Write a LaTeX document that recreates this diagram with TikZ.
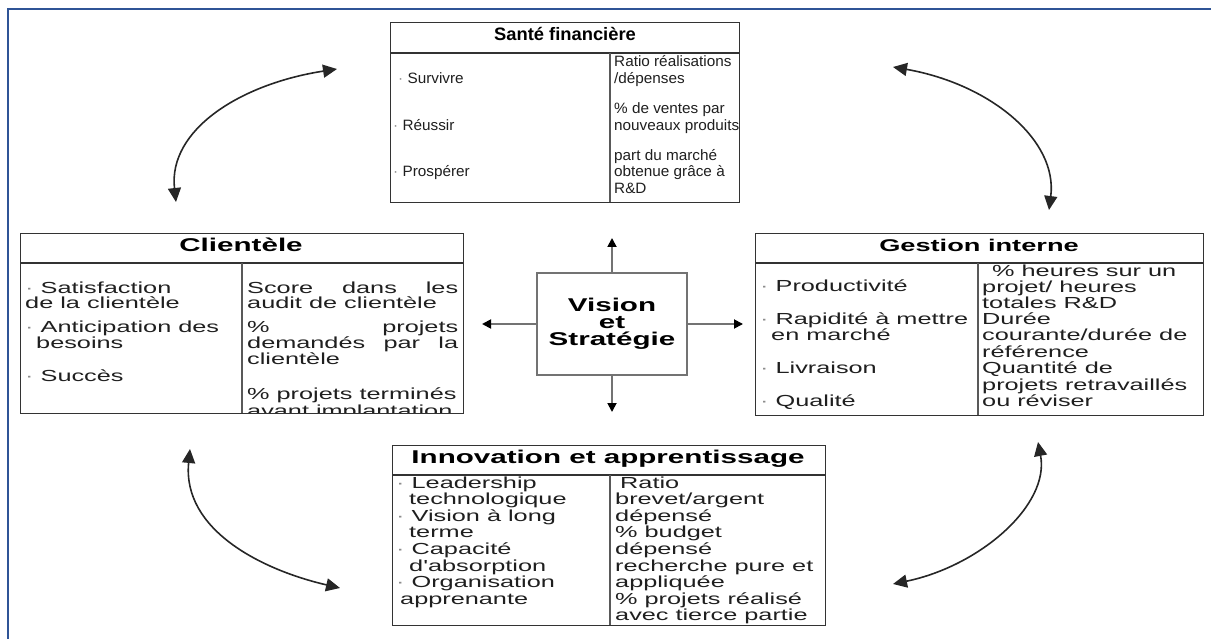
\documentclass[tikz,border=0pt]{standalone}
\usepackage{fontspec}
\setmainfont{Liberation Sans}
\newfontfamily\wideSans{Liberation Sans}[FakeStretch=1.58]
\newfontfamily\headSans{Liberation Sans}[FakeStretch=1.6]
\newfontfamily\slimSans{Liberation Sans}[FakeStretch=1.02]
\usetikzlibrary{arrows.meta}
\definecolor{frameblue}{HTML}{2F5496}
\newcommand\dotb{\textcolor{black!45}{·}\ }

\tikzset{
  frame/.style={draw=frameblue, line width=2.2pt},
  panel/.style={draw=black!80, line width=1.4pt, fill=white, inner sep=0pt, anchor=north west},
  rule/.style={draw=black!80, line width=1.4pt},
  colrule/.style={draw=black!65, line width=2.4pt},
  wtxt/.style={inner sep=0pt, anchor=mid west, text=black!88, font=\wideSans\fontsize{16}{16}\selectfont},
  ntxt/.style={wtxt, font=\slimSans\fontsize{15}{16}\selectfont},
  whead/.style={inner sep=0pt, anchor=mid, text=black, font=\headSans\bfseries\fontsize{18.5}{18}\selectfont},
  nhead/.style={whead, font=\slimSans\bfseries\fontsize{18}{18}\selectfont},
  core/.style={draw=black!55, line width=2.2pt, fill=white, minimum width=150pt, minimum height=102pt,
    align=center, text=black, font=\headSans\bfseries\fontsize{18.5}{17}\selectfont},
  link/.style={{Triangle[length=14pt,width=13pt]}-{Triangle[length=14pt,width=13pt]}, line width=1.6pt, draw=black!85},
  spoke/.style={-{Triangle[length=9pt,width=9pt,color=black]}, draw=black!55, line width=1.8pt},
}

\begin{document}
\begin{tikzpicture}[x=1pt,y=-1pt]
\useasboundingbox (0,0) rectangle (1211,639);
\clip (0,0) rectangle (1211,639);

% page frame
\draw[frame] (8,9) rectangle (1230,660);

% ---------- Santé financière ----------
\node[panel, minimum width=349pt, minimum height=180pt] (sante) at (390,22) {};
\draw[rule] (390,53) -- (739,53);
\draw[colrule] (610,53) -- (610,202);
\node[nhead] (santeT) at (565,38) {Santé financière};
\node[ntxt] (sL1) at (398,81)  {\dotb Survivre};
\node[ntxt] (sL2) at (393,128) {\dotb Réussir};
\node[ntxt] (sL3) at (393,174) {\dotb Prospérer};
\node[ntxt] (sR1) at (614,64)  {Ratio réalisations};
\node[ntxt] (sR2) at (614,81)  {/dépenses};
\node[ntxt] (sR3) at (614,111) {\% de ventes par};
\node[ntxt] (sR4) at (614,128) {nouveaux produits};
\node[ntxt] (sR5) at (614,158) {part du marché};
\node[ntxt] (sR6) at (614,174) {obtenue grâce à};
\node[ntxt] (sR7) at (614,191) {R\&D};

% ---------- Clientèle ----------
\node[panel, minimum width=443pt, minimum height=180pt] (client) at (20,233) {};
\begin{scope}
  \clip (21,234) rectangle (462,412);
  \node[wtxt] (cR7) at (247,414) {avant implantation};
\end{scope}
\draw[rule] (20,263) -- (463,263);
\draw[colrule] (242,263) -- (242,413);
\node[whead] (clientT) at (241,249) {Clientèle};
\node[wtxt] (cL1) at (25,291) {\dotb Satisfaction};
\node[wtxt] (cL2) at (25,306) {de la clientèle};
\node[wtxt] (cL3) at (25,330) {\dotb Anticipation des};
\node[wtxt] (cL4) at (36,346) {besoins};
\node[wtxt] (cL5) at (25,379) {\dotb Succès};
\node[wtxt] (cR1) at (247,291) {\hbox to 211pt{Score\hfill dans\hfill les}};
\node[wtxt] (cR2) at (247,306) {audit de clientèle};
\node[wtxt] (cR3) at (247,330) {\hbox to 211pt{\%\hfill projets}};
\node[wtxt] (cR4) at (247,346) {\hbox to 211pt{demandés\hfill par\hfill la}};
\node[wtxt] (cR5) at (247,362) {clientèle};
\node[wtxt] (cR6) at (247,397) {\% projets terminés};

% ---------- Gestion interne ----------
\node[panel, minimum width=448pt, minimum height=182pt] (gestion) at (755,233) {};
\draw[rule] (755,263) -- (1203,263);
\draw[colrule] (978,263) -- (978,415);
\node[whead, font=\headSans\bfseries\fontsize{17}{18}\selectfont] (gestionT) at (979,249) {Gestion interne};
\node[wtxt] (gL1) at (760,289) {\dotb Productivité};
\node[wtxt] (gL2) at (760,322) {\dotb Rapidité à mettre};
\node[wtxt] (gL3) at (771,338) {en marché};
\node[wtxt] (gL4) at (760,371) {\dotb Livraison};
\node[wtxt] (gL5) at (760,404) {\dotb Qualité};
\node[wtxt] (gR1) at (992,274) {\% heures sur un};
\node[wtxt] (gR2) at (982,290) {projet/ heures};
\node[wtxt] (gR3) at (982,306) {totales R\&D};
\node[wtxt] (gR4) at (982,322) {Durée};
\node[wtxt] (gR5) at (982,338) {courante/durée de};
\node[wtxt] (gR6) at (982,355) {référence};
\node[wtxt] (gR7) at (982,371) {Quantité de};
\node[wtxt] (gR8) at (982,388) {projets retravaillés};
\node[wtxt] (gR9) at (982,404) {ou réviser};

% ---------- Innovation et apprentissage ----------
\node[panel, minimum width=433pt, minimum height=180pt] (innov) at (392,445) {};
\draw[rule] (392,475) -- (825,475);
\draw[colrule] (610,475) -- (610,625);
\node[whead] (innovT) at (608,461) {Innovation et apprentissage};
\node[wtxt] (iL1) at (396,486) {\dotb Leadership};
\node[wtxt] (iL2) at (409,502) {technologique};
\node[wtxt] (iL3) at (396,519) {\dotb Vision à long};
\node[wtxt] (iL4) at (409,535) {terme};
\node[wtxt] (iL5) at (396,552) {\dotb Capacité};
\node[wtxt] (iL6) at (409,569) {d'absorption};
\node[wtxt] (iL7) at (396,585) {\dotb Organisation};
\node[wtxt] (iL8) at (400,602) {apprenante};
\node[wtxt] (iR1) at (620,486) {Ratio};
\node[wtxt] (iR2) at (615,502) {brevet/argent};
\node[wtxt] (iR3) at (615,519) {dépensé};
\node[wtxt] (iR4) at (615,535) {\% budget};
\node[wtxt] (iR5) at (615,552) {dépensé};
\node[wtxt] (iR6) at (615,569) {recherche pure et};
\node[wtxt] (iR7) at (615,585) {appliquée};
\node[wtxt] (iR8) at (615,602) {\% projets réalisé};
\node[wtxt] (iR9) at (615,618) {avec tierce partie};

% ---------- central box and its spokes ----------
\node[core] (vision) at (612,324) {Vision\\et\\Stratégie};
\coordinate (tipN) at (612,238);
\coordinate (tipS) at (612,412);
\coordinate (tipW) at (482,324);
\coordinate (tipE) at (743,324);
\draw[spoke] (vision.north) -- (tipN);
\draw[spoke] (vision.south) -- (tipS);
\draw[spoke] (vision.west) -- (tipW);
\draw[spoke] (vision.east) -- (tipE);

% ---------- curved two-way links between the perspectives ----------
\coordinate (l1a) at (176,202);
\coordinate (l1b) at (337,69);
\coordinate (l2a) at (893,67);
\coordinate (l2b) at (1049,210);
\coordinate (l3a) at (190,449);
\coordinate (l3b) at (340,588);
\coordinate (l4a) at (1038,442);
\coordinate (l4b) at (893,584);
\draw[link] (l1a) .. controls (168,130) and (240,84) .. (l1b);
\draw[link] (l2a) .. controls (990,84) and (1058,140) .. (l2b);
\draw[link] (l3a) .. controls (182,530) and (262,570) .. (l3b);
\draw[link] (l4a) .. controls (1050,505) and (980,566) .. (l4b);
\end{tikzpicture}
\end{document}
